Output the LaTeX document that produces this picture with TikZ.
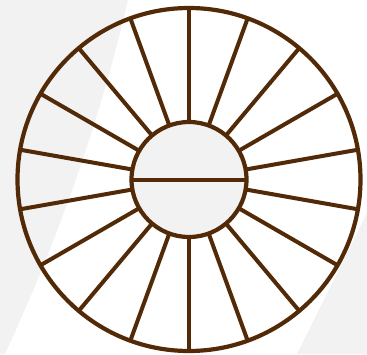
\documentclass[tikz,border=0pt]{standalone}
\usetikzlibrary{calc}
\definecolor{wheelbrown}{RGB}{82,42,8}
\definecolor{bggray}{RGB}{242,242,242}
\tikzset{
  rim/.style={draw=wheelbrown, line width=4.2pt},
  spoke/.style={draw=wheelbrown, line width=4pt},
  bgshape/.style={fill=bggray, draw=none}
}
\begin{document}
\begin{tikzpicture}[x=1pt,y=-1pt]
\useasboundingbox (0,0) rectangle (367,354);
\fill[white] (0,0) rectangle (367,354);
% background shapes
\path[bgshape] (0,0) -- (128,0) .. controls (100.5,118) and (59.5,236) .. (5,354) -- (0,354) -- cycle;
\path[bgshape] (367,213) -- (297,354) -- (367,354) -- cycle;
\coordinate (c) at (189,179.5);
% outer rim
\path[rim] (c) circle[radius=171.5pt];
% spokes
\foreach \a in {10,30,...,350} {
  \draw[spoke] ($(c)+(\a:57)$) -- ($(c)+(\a:171.5)$);
}
% hub
\path[rim, fill=bggray] (c) circle[radius=57.5pt];
\coordinate (hl) at ($(c)+(-57.5,0)$);
\coordinate (hr) at ($(c)+(57.5,0)$);
\draw[spoke] (hl) -- (hr);
\end{tikzpicture}
\end{document}
